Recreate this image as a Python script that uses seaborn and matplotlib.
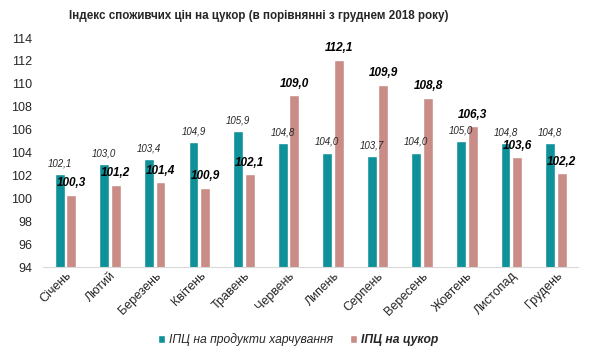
import pandas as pd
import matplotlib.pyplot as plt
import seaborn as sns

months = ['Січень', 'Лютий', 'Березень', 'Квітень', 'Травень', 'Червень',
          'Липень', 'Серпень', 'Вересень', 'Жовтень', 'Листопад', 'Грудень']
food_cpi = [102.1, 103.0, 103.4, 104.9, 105.9, 104.8, 104.0, 103.7, 104.0, 105.0, 104.8, 104.8]
sugar_cpi = [100.3, 101.2, 101.4, 100.9, 102.1, 109.0, 112.1, 109.9, 108.8, 106.3, 103.6, 102.2]
series_names = ['ІПЦ на продукти харчування', 'ІПЦ на цукор']

df = pd.DataFrame({
    'month': months * 2,
    'value': food_cpi + sugar_cpi,
    'series': [series_names[0]] * 12 + [series_names[1]] * 12,
})

sns.set_style('white')
plt.rcParams['font.family'] = ['Liberation Sans', 'DejaVu Sans']

fig = plt.figure(figsize=(6.01, 3.56), dpi=100)
ax = fig.add_axes([0.072, 0.25, 0.89, 0.643])

sns.barplot(data=df, x='month', y='value', hue='series',
            palette=['#0E9199', '#C98C87'], saturation=1, width=0.52, gap=0.14, ax=ax)

ax.set_ylim(94, 114)
ax.set_yticks(range(94, 115, 2))
ax.set_xlabel('')
ax.set_ylabel('')
ax.tick_params(axis='y', labelsize=9, length=0, pad=8)
ax.tick_params(axis='x', labelsize=9, length=0, pad=2)
plt.setp(ax.get_xticklabels(), rotation=45, ha='right', rotation_mode='anchor')
for s in ['top', 'right', 'left']:
    ax.spines[s].set_visible(False)
ax.spines['bottom'].set_color('#D9D9D9')

# value labels
fmt = lambda v: f'{v:.1f}'.replace('.', ',')
ax.bar_label(ax.containers[0], labels=[fmt(v) for v in food_cpi], padding=4,
             fontsize=7, fontstyle='italic', color='#262626')
ax.bar_label(ax.containers[1], labels=[fmt(v) for v in sugar_cpi], padding=4,
             fontsize=8.5, fontstyle='italic', fontweight='bold', color='black')

# title sits a bit left of centre in the original
fig.text(0.43, 0.955, 'Індекс споживчих цін на цукор (в порівнянні з груднем 2018 року)',
         ha='center', va='center', fontsize=8.4, fontweight='bold', color='#262626')

ax.get_legend().remove()
handles, labels = ax.get_legend_handles_labels()
leg = fig.legend(handles, labels, loc='center', bbox_to_anchor=(0.496, 0.045), ncol=2,
                 frameon=False, handlelength=0.6, handleheight=0.6, handletextpad=0.3,
                 columnspacing=1.4, fontsize=8.7)
for t in leg.get_texts():
    t.set_fontstyle('italic')
leg.get_texts()[1].set_fontweight('bold')

plt.savefig('out.png', dpi=100)
